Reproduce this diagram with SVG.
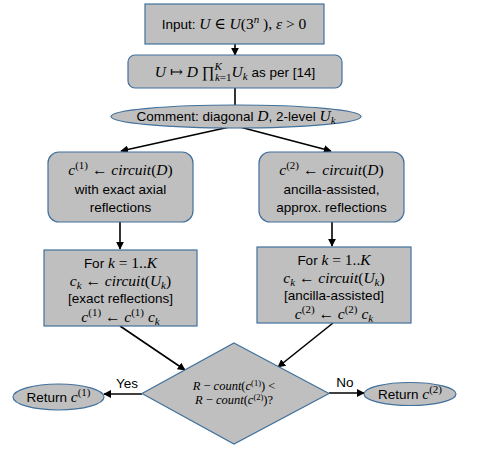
<svg xmlns="http://www.w3.org/2000/svg" width="485" height="454" viewBox="0 0 485 454">
<defs>
<marker id="ah" viewBox="0 0 10 10" refX="9" refY="5" markerWidth="5" markerHeight="5" orient="auto" markerUnits="strokeWidth">
<path d="M0,0 L10,5 L0,10 z" fill="#000"/>
</marker>
<style>
.shape{fill:#BFBFBF;stroke:#41719C;stroke-width:1.2}
.t{font-family:"Liberation Sans","Open Sans",sans-serif;font-size:13.5px;fill:#000;text-anchor:middle}
.m{font-family:"Liberation Serif","DejaVu Serif",serif;font-style:italic;font-size:15.5px}
.r{font-family:"Liberation Serif","DejaVu Serif",serif;font-style:normal;font-size:15.5px}
.s{font-size:11px}
.d{font-family:"Liberation Serif","DejaVu Serif",serif;font-style:italic;font-size:12.5px;fill:#000;text-anchor:middle}
.c{stroke:#000;stroke-width:1.6;fill:none;marker-end:url(#ah)}
.cn{stroke:#000;stroke-width:1.6;fill:none}
</style>
</defs>
<rect width="485" height="454" fill="#fff"/>
<g id="connectors">
<line class="c" x1="235" y1="44" x2="235" y2="55"/>
<line class="cn" x1="235" y1="88" x2="235" y2="105"/>
<line class="c" x1="234" y1="126" x2="121" y2="151"/>
<line class="c" x1="236" y1="126" x2="331" y2="151"/>
<line class="c" x1="120" y1="222" x2="120" y2="249"/>
<line class="c" x1="332" y1="222" x2="332" y2="246"/>
<line class="c" x1="120" y1="326" x2="185" y2="370"/>
<line class="c" x1="333" y1="323" x2="278" y2="367"/>
<line class="c" x1="142" y1="394" x2="104" y2="394"/>
<line class="c" x1="329" y1="393" x2="364" y2="393"/>
<text class="t" x="127" y="388">Yes</text>
<text class="t" x="345" y="387">No</text>
</g>
<g id="input">
<rect class="shape" x="145" y="4" width="179" height="40"/>
<text class="t" x="234" y="29">Input: <tspan class="m">U</tspan><tspan class="r"> ∈ </tspan><tspan class="m">U</tspan><tspan class="r">(3</tspan><tspan class="m s" dy="-6">n</tspan><tspan class="r" dy="6"> ), </tspan><tspan class="m">ε</tspan><tspan class="r"> &gt; 0</tspan></text>
</g>
<g id="decompose">
<rect class="shape" x="128" y="55" width="214" height="33" rx="7"/>
<text class="t" x="235" y="77"><tspan class="m">U</tspan><tspan class="r"> ↦ </tspan><tspan class="m">D</tspan><tspan class="r">  ∏</tspan><tspan class="m s" dy="-7">K</tspan><tspan class="m s" dx="-7" dy="11">k</tspan><tspan class="r s">=1</tspan><tspan class="m" dy="-4">U</tspan><tspan class="m s" dy="3">k</tspan><tspan dy="-3"> as per [14]</tspan></text>
</g>
<g id="comment">
<ellipse class="shape" cx="236" cy="116.5" rx="125" ry="11.5"/>
<text class="t" x="236" y="121">Comment: diagonal <tspan class="m">D</tspan>, 2-level <tspan class="m">U</tspan><tspan class="m s" dy="3">k</tspan></text>
</g>
<g id="circuitD1">
<rect class="shape" x="48" y="152" width="145" height="70" rx="11"/>
<text class="t" x="120.5" y="175"><tspan class="m">c</tspan><tspan class="r s" dy="-6">(1)</tspan><tspan class="r" dy="6"> ← </tspan><tspan class="m">circuit</tspan><tspan class="r">(</tspan><tspan class="m">D</tspan><tspan class="r">)</tspan></text>
<text class="t" x="120.5" y="194">with exact axial</text>
<text class="t" x="120.5" y="212">reflections</text>
</g>
<g id="circuitD2">
<rect class="shape" x="259" y="152" width="145" height="70" rx="11"/>
<text class="t" x="331.5" y="175"><tspan class="m">c</tspan><tspan class="r s" dy="-6">(2)</tspan><tspan class="r" dy="6"> ← </tspan><tspan class="m">circuit</tspan><tspan class="r">(</tspan><tspan class="m">D</tspan><tspan class="r">)</tspan></text>
<text class="t" x="331.5" y="194">ancilla-assisted,</text>
<text class="t" x="331.5" y="212">approx. reflections</text>
</g>
<g id="loop1">
<rect class="shape" x="44" y="250" width="153" height="76"/>
<text class="t" x="120.5" y="268">For <tspan class="m">k</tspan><tspan class="r"> = 1..</tspan><tspan class="m">K</tspan></text>
<text class="t" x="120.5" y="286"><tspan class="m">c</tspan><tspan class="m s" dy="3">k</tspan><tspan class="r" dy="-3"> ← </tspan><tspan class="m">circuit</tspan><tspan class="r">(</tspan><tspan class="m">U</tspan><tspan class="m s" dy="3">k</tspan><tspan class="r" dy="-3">)</tspan></text>
<text class="t" x="120.5" y="303">[exact reflections]</text>
<text class="t" x="120.5" y="322"><tspan class="m">c</tspan><tspan class="r s" dy="-6">(1)</tspan><tspan class="r" dy="6"> ← </tspan><tspan class="m">c</tspan><tspan class="r s" dy="-6">(1)</tspan><tspan class="m" dy="6"> c</tspan><tspan class="m s" dy="3">k</tspan></text>
</g>
<g id="loop2">
<rect class="shape" x="257" y="247" width="154" height="76"/>
<text class="t" x="334" y="265">For <tspan class="m">k</tspan><tspan class="r"> = 1..</tspan><tspan class="m">K</tspan></text>
<text class="t" x="334" y="283"><tspan class="m">c</tspan><tspan class="m s" dy="3">k</tspan><tspan class="r" dy="-3"> ← </tspan><tspan class="m">circuit</tspan><tspan class="r">(</tspan><tspan class="m">U</tspan><tspan class="m s" dy="3">k</tspan><tspan class="r" dy="-3">)</tspan></text>
<text class="t" x="334" y="300">[ancilla-assisted]</text>
<text class="t" x="334" y="319"><tspan class="m">c</tspan><tspan class="r s" dy="-6">(2)</tspan><tspan class="r" dy="6"> ← </tspan><tspan class="m">c</tspan><tspan class="r s" dy="-6">(2)</tspan><tspan class="m" dy="6"> c</tspan><tspan class="m s" dy="3">k</tspan></text>
</g>
<g id="decision">
<polygon class="shape" points="234,343 329,393.5 234,444 142,393.5"/>
<text class="d" x="234" y="390">R <tspan font-style="normal">−</tspan> count<tspan font-style="normal">(</tspan>c<tspan font-style="normal" font-size="8.5" dy="-4">(1)</tspan><tspan font-style="normal" dy="4">)</tspan> <tspan font-style="normal">&lt;</tspan></text>
<text class="d" x="234" y="404">R <tspan font-style="normal">−</tspan> count<tspan font-style="normal">(</tspan>c<tspan font-style="normal" font-size="8.5" dy="-4">(2)</tspan><tspan font-style="normal" dy="4">)?</tspan></text>
</g>
<g id="return1">
<ellipse class="shape" cx="58.5" cy="397" rx="45.5" ry="13"/>
<text class="t" x="58.5" y="402">Return <tspan class="m">c</tspan><tspan class="r s" dy="-6">(1)</tspan></text>
</g>
<g id="return2">
<ellipse class="shape" cx="410" cy="394" rx="46" ry="11.5"/>
<text class="t" x="410" y="399">Return <tspan class="m">c</tspan><tspan class="r s" dy="-6">(2)</tspan></text>
</g>
</svg>
